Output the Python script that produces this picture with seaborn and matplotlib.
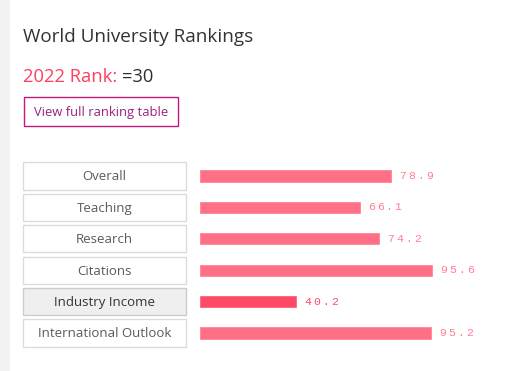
import matplotlib
matplotlib.use("Agg")
import matplotlib.pyplot as plt
import pandas as pd
import seaborn as sns
from matplotlib.patches import Rectangle

# values
categories = ["Overall", "Teaching", "Research", "Citations",
              "Industry Income", "International Outlook"]
scores = [78.9, 66.1, 74.2, 95.6, 40.2, 95.2]
highlight = "Industry Income"

title = "World University Rankings"
rank_year = "2022 Rank:"
rank_value = "=30"
button_text = "View full ranking table"

W, H = 508, 371
BAR = "#ff6f85"
BAR_HI = "#ff4a67"
FONT = ["Open Sans", "DejaVu Sans"]

sns.set_theme(style="white")
plt.rcParams["font.family"] = FONT

df = pd.DataFrame({"category": categories, "score": scores})
df["hue"] = ["hi" if c == highlight else "lo" for c in categories]


def fx(px):
    return px / W


def fy(px):
    return 1 - px / H


fig = plt.figure(figsize=(W / 100, H / 100), dpi=100)
fig.patch.set_facecolor("white")

# light grey strip on the left edge
fig.patches.append(Rectangle((0, 0), fx(10), 1, transform=fig.transFigure,
                             facecolor="#f2f2f2", edgecolor="none", zorder=0))

fig.text(fx(23), fy(42), title, fontsize=13.6, color="#333333", va="baseline")
t = fig.text(fx(23), fy(82), rank_year, fontsize=13.2, color="#ff3f5e", va="baseline")
fig.canvas.draw()
bb = t.get_window_extent()
fig.text(bb.x1 / W + fx(5), fy(82), rank_value, fontsize=13.2, color="#2e2e2e",
         va="baseline")

fig.patches.append(Rectangle((fx(24), fy(126)), fx(154), 29 / H,
                             transform=fig.transFigure, facecolor="white",
                             edgecolor="#c0187f", linewidth=1.0))
fig.text(fx(101.5), fy(116), button_text, fontsize=9.4, color="#9b2280",
         ha="center", va="baseline")

row_px = 31.4
top_px = 176 - row_px / 2
n = len(categories)
ax_h = n * row_px

# bar chart
ax = fig.add_axes([fx(199), fy(top_px + ax_h), fx(244.6), ax_h / H])
sns.barplot(data=df, x="score", y="category", hue="hue", orient="h",
            palette={"lo": BAR, "hi": BAR_HI}, width=0.42, legend=False,
            dodge=False, ax=ax, saturation=1)
ax.set_xlim(0, 100)
ax.set_ylim(n - 0.5, -0.5)
ax.axis("off")

for i, v in enumerate(scores):
    col = "#ff4a67" if categories[i] == highlight else "#ff7f93"
    for j, ch in enumerate(f"{v:.1f}"):
        ax.annotate(ch, xy=(v, i), xytext=(5 + j * 6.5, 0),
                    textcoords="offset points", fontsize=8.2,
                    family="Liberation Mono", color=col,
                    va="center", ha="left", annotation_clip=False)

# label boxes on the left
lab = fig.add_axes([fx(23), fy(top_px + ax_h), fx(163), ax_h / H])
lab.set_xlim(0, 1)
lab.set_ylim(n - 0.5, -0.5)
lab.axis("off")
for i, c in enumerate(categories):
    hi = c == highlight
    lab.add_patch(Rectangle((0, i - 0.43), 1, 0.86,
                            facecolor="#efefef" if hi else "white",
                            edgecolor="#cccccc" if hi else "#dcdcdc",
                            linewidth=1.0, clip_on=False))
    lab.text(0.5, i + 0.03, c, ha="center", va="center", fontsize=9.5,
             color="#333333" if hi else "#5a5a5a")

fig.savefig("out.png", dpi=100)
